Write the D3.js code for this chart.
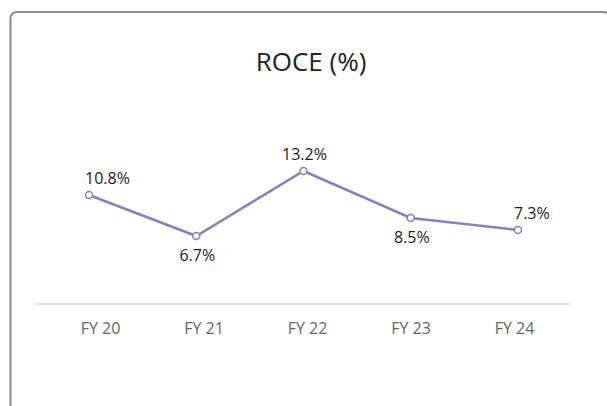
<!DOCTYPE html>
<html><head><meta charset="utf-8">
<script src="https://cdn.jsdelivr.net/npm/d3@7"></script>
<style>
html,body{margin:0;padding:0;background:#fff;}
svg{display:block;font-family:"Open Sans",sans-serif;}
</style></head>
<body>
<svg id="chart" width="607" height="406"></svg>
<script>
const categories = ["FY 20","FY 21","FY 22","FY 23","FY 24"];
const roce = [10.8, 6.7, 13.2, 8.5, 7.3];
const labelPlacement = ["above","below","above","below","above"];
const title = "ROCE (%)";

const svg = d3.select("#chart");
// card
svg.append("rect").attr("x",10.5).attr("y",12).attr("width",599).attr("height",420)
  .attr("rx",6).attr("fill","#fff").attr("stroke","#8a8a8a").attr("stroke-width",2);

svg.append("text").attr("x",311).attr("y",71).attr("text-anchor","middle")
  .attr("font-size",26).attr("fill","#222").text(title);

const x = d3.scalePoint().domain(categories).range([89,518]);
const xLab = d3.scalePoint().domain(categories).range([100,514]);
const y = d3.scaleLinear().domain([0,15]).range([303,153]);

// baseline
svg.append("line").attr("x1",34).attr("x2",570).attr("y1",y(0)+1).attr("y2",y(0)+1)
  .attr("stroke","#e0e0e0").attr("stroke-width",2);

const axis = d3.axisBottom(xLab).tickSize(0).tickPadding(0);
const ax = svg.append("g").attr("transform",`translate(0,${y(0)+20})`).call(axis);
ax.select(".domain").remove();
ax.selectAll("text").attr("font-size",16).attr("fill","#666").attr("font-family","'Open Sans',sans-serif").attr("dy","0.71em");

const data = categories.map((c,i)=>({c, v:roce[i], p:labelPlacement[i], i}));

svg.append("path").datum(data)
  .attr("d", d3.line().x(d=>x(d.c)).y(d=>y(d.v)))
  .attr("fill","none").attr("stroke","#8a7fc0").attr("stroke-width",2.5);

svg.selectAll("circle.pt").data(data).join("circle").attr("class","pt")
  .attr("cx",d=>x(d.c)).attr("cy",d=>y(d.v)).attr("r",3.5)
  .attr("fill","#fff").attr("stroke","#8a7fc0").attr("stroke-width",1.5);

const last = data.length-1;
svg.selectAll("text.lbl").data(data).join("text").attr("class","lbl")
  .attr("x",d=> (d.i===0||d.i===last) ? x(d.c)-4 : x(d.c)+1)
  .attr("y",d=> d.p==="above" ? y(d.v)-11 : y(d.v)+25)
  .attr("text-anchor",d=> (d.i===0||d.i===last) ? "start" : "middle")
  .attr("font-size",16).attr("fill","#222")
  .text(d=>d.v.toFixed(1)+"%");
</script>
</body></html>
